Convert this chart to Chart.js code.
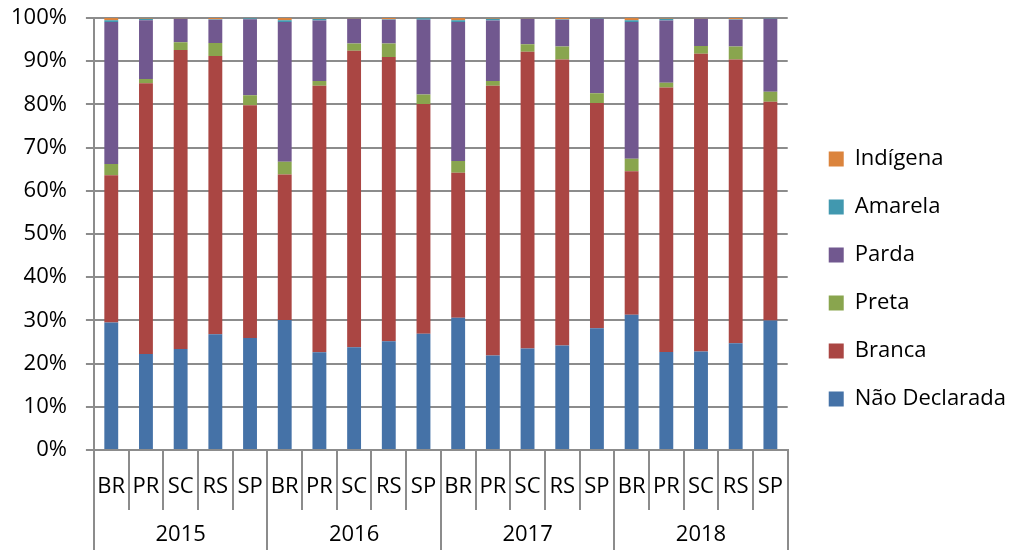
<!DOCTYPE html>
<html>
<head>
<meta charset="utf-8">
<script src="https://cdn.jsdelivr.net/npm/chart.js@4/dist/chart.umd.min.js"></script>
<style>
  html, body { margin: 0; padding: 0; background: #fff; }
  #wrap { width: 1011px; height: 550px; }
</style>
</head>
<body>
<div id="wrap"><canvas id="grafico"></canvas></div>
<script>
var anos = ['2015', '2016', '2017', '2018'];
var estados = ['BR', 'PR', 'SC', 'RS', 'SP'];
var rotulos = [];
anos.forEach(function () { estados.forEach(function (e) { rotulos.push(e); }); });

// percentuais por barra (2015 BR..SP, 2016 BR..SP, ...)
var naoDeclarada = [29.5, 22.2, 23.4, 26.8, 25.9, 30.1, 22.6, 23.8, 25.2, 26.9, 30.6, 21.9, 23.5, 24.2, 28.2, 31.3, 22.7, 22.8, 24.7, 30.0];
var branca       = [34.1, 62.7, 69.2, 64.4, 53.9, 33.7, 61.7, 68.6, 65.8, 53.2, 33.6, 62.4, 68.7, 66.2, 52.1, 33.2, 61.2, 68.9, 65.7, 50.6];
var preta        = [2.6, 1.0, 1.8, 3.0, 2.3, 2.9, 1.1, 1.7, 3.1, 2.2, 2.7, 1.1, 1.7, 3.0, 2.3, 2.9, 1.1, 1.8, 3.0, 2.3];
var parda        = [32.9, 13.6, 5.4, 5.4, 17.6, 32.4, 14.0, 5.7, 5.5, 17.3, 32.2, 14.0, 5.9, 6.2, 17.2, 31.7, 14.4, 6.3, 6.2, 16.9];
var amarela      = [0.4, 0.3, 0.1, 0.1, 0.25, 0.4, 0.4, 0.1, 0.1, 0.35, 0.4, 0.4, 0.1, 0.1, 0.15, 0.4, 0.4, 0.1, 0.1, 0.15];
var indigena     = [0.5, 0.2, 0.1, 0.3, 0.05, 0.5, 0.2, 0.1, 0.3, 0.05, 0.5, 0.2, 0.1, 0.3, 0.05, 0.5, 0.2, 0.1, 0.3, 0.05];

var fonte = 'Open Sans';
var cinza = '#8c8c8c';

function serie(nome, dados, cor) {
    return {
        label: nome,
        data: dados,
        backgroundColor: cor,
        borderWidth: 0,
        categoryPercentage: 1,
        barPercentage: 0.4
    };
}

var data = {
    labels: rotulos,
    datasets: [
        serie('Não Declarada', naoDeclarada, '#4572a7'),
        serie('Branca', branca, '#aa4643'),
        serie('Preta', preta, '#89a54e'),
        serie('Parda', parda, '#71588f'),
        serie('Amarela', amarela, '#4198af'),
        serie('Indígena', indigena, '#db843d')
    ]
};

// empurra a legenda um pouco para a direita, longe das barras
var afastaLegenda = {
    id: 'afastaLegenda',
    afterLayout: function (chart) {
        if (chart.legend) {
            chart.legend.left += 15;
            chart.legend.right += 15;
        }
    }
};

var config = {
    type: 'bar',
    data: data,
    plugins: [afastaLegenda],
    options: {
        responsive: true,
        maintainAspectRatio: false,
        animation: false,
        layout: { padding: { left: -8, right: 10, top: 8, bottom: 0 } },
        plugins: {
            tooltip: { enabled: false },
            legend: {
                position: 'right',
                reverse: true,
                labels: {
                    boxWidth: 15,
                    boxHeight: 15,
                    padding: 26,
                    color: '#000',
                    font: { family: fonte, size: 22 }
                }
            }
        },
        scales: {
            x: {
                stacked: true,
                weight: 0,
                grid: {
                    offset: true,
                    drawOnChartArea: false,
                    drawTicks: true,
                    tickLength: 60,
                    color: cinza,
                    lineWidth: 2
                },
                border: { display: true, color: cinza, width: 2 },
                ticks: {
                    padding: -46,
                    color: '#000',
                    maxRotation: 0,
                    autoSkip: false,
                    font: { family: fonte, size: 22, lineHeight: '46px' },
                    // linha vazia extra: rótulo fica entre as marcas
                    callback: function (v, i) { return [rotulos[i], '']; }
                }
            },
            anos: {
                type: 'category',
                position: 'bottom',
                labels: anos,
                weight: 1,
                grid: {
                    offset: true,
                    drawOnChartArea: false,
                    tickLength: 40,
                    color: cinza,
                    lineWidth: 2
                },
                border: { display: false },
                ticks: {
                    padding: -30,
                    color: '#000',
                    maxRotation: 0,
                    font: { family: fonte, size: 22, lineHeight: '30px' },
                    callback: function (v, i) { return [anos[i], '']; }
                }
            },
            y: {
                stacked: true,
                min: 0,
                max: 100,
                grid: {
                    color: cinza,
                    lineWidth: 2,
                    tickLength: 8
                },
                border: { display: true, color: cinza, width: 2 },
                ticks: {
                    stepSize: 10,
                    padding: 19,
                    color: '#000',
                    font: { family: fonte, size: 22 },
                    callback: function (v) { return v + '%'; }
                },
                afterFit: function (s) { s.paddingTop = 18; }
            }
        }
    }
};

new Chart(document.getElementById('grafico'), config);
</script>
</body>
</html>
